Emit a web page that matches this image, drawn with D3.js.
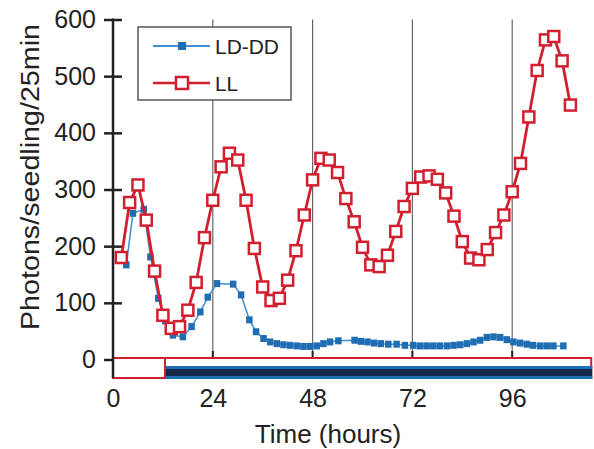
<!DOCTYPE html>
<html>
<head>
<meta charset="utf-8">
<script src="https://cdn.jsdelivr.net/npm/d3@7"></script>
<style>
  html, body { margin: 0; padding: 0; background: #fff; }
  svg { display: block; }
  text { font-family: "Liberation Sans", Arial, Helvetica, sans-serif; fill: #222; }
</style>
</head>
<body>
<div id="chart"></div>
<script>
// ---- data ----
const xTickLabels = [0, 24, 48, 72, 96];
const yTickLabels = [0, 100, 200, 300, 400, 500, 600];
const seriesNames = ["LD-DD", "LL"];

const llTime = [2,4,6,8,10,12,14,16,18,20,22,24,26,28,30,32,34,36,38,40,42,44,46,48,50,52,54,56,58,60,62,64,66,68,70,72,74,76,78,80,82,84,86,88,90,92,94,96,98,100,102,104,106,108,110];
const llValue = [180,277,308,246,156,78,55,58,87,136,215,281,340,364,352,281,196,128,104,108,140,192,255,317,355,352,330,284,243,198,167,164,184,226,270,302,322,324,318,294,253,208,179,176,194,224,255,296,346,428,510,564,570,527,449];

const lddTime = [3.2,4.8,7.4,9.0,10.9,12.6,14.4,16.8,18.9,21.0,22.8,25.0,28.9,30.8,32.8,34.4,36.2,37.8,39.4,41.0,42.6,44.2,45.8,47.4,49.0,50.6,52.2,54.2,58.1,59.6,61.2,62.8,64.4,66.2,68.2,70.2,72.2,73.8,75.4,77.0,78.6,80.3,81.9,83.5,85.1,86.7,88.3,89.9,91.5,93.1,94.7,96.3,97.9,99.5,101.0,102.7,104.3,105.9,108.3];
const lddValue = [167,258,265,181,108,68,43,40,58,84,110,134,133,114,70,49,37,31,28,26,25,24,23,23,24,28,31,33,34,32,31,29,28,27,27,25,25,24,24,24,24,24,25,26,28,31,34,39,40,39,35,31,29,27,25,24,24,24,24];

const lightOffHour = 12.5;   // end of light period in LD bar
const barEndHour = 115;

// ---- layout ----
const W = 594, H = 449;
const RED = "#d21f2f", BLUE = "#1f6db3", BLUE_LINE = "#3f8fd2";

const svg = d3.select("#chart").append("svg").attr("width", W).attr("height", H);

const x = d3.scaleLinear().domain([0, 24]).range([113, 212.8]);
const y = d3.scaleLinear().domain([0, 600]).range([359.5, 19.5]);

const barTop = 358, barBottom = 378, darkTop = 366;

// vertical reference lines
svg.append("g").selectAll("line").data(xTickLabels.filter(d => d > 0)).join("line")
  .attr("x1", d => x(d)).attr("x2", d => x(d))
  .attr("y1", y(600)).attr("y2", barTop)
  .attr("stroke", "#666").attr("stroke-width", 1.2);
// short dark ticks at bottom
svg.append("g").selectAll("line").data(xTickLabels.filter(d => d > 0)).join("line")
  .attr("x1", d => x(d)).attr("x2", d => x(d))
  .attr("y1", barTop - 7).attr("y2", barTop + 3)
  .attr("stroke", "#222").attr("stroke-width", 2);

// light/dark bar
svg.append("rect").attr("x", x(0)).attr("y", barTop)
  .attr("width", x(barEndHour) - x(0)).attr("height", barBottom - barTop)
  .attr("fill", "#fff").attr("stroke", RED).attr("stroke-width", 2);
svg.append("rect").attr("x", x(lightOffHour)).attr("y", darkTop)
  .attr("width", x(barEndHour) - x(lightOffHour) + 1).attr("height", barBottom - darkTop + 1)
  .attr("fill", "#14284a");
svg.append("rect").attr("x", x(lightOffHour)).attr("y", darkTop)
  .attr("width", x(barEndHour) - x(lightOffHour) + 1).attr("height", 3)
  .attr("fill", BLUE);
svg.append("rect").attr("x", x(lightOffHour)).attr("y", barBottom - 2)
  .attr("width", x(barEndHour) - x(lightOffHour) + 1).attr("height", 3)
  .attr("fill", BLUE);
svg.append("line").attr("x1", x(lightOffHour)).attr("x2", x(lightOffHour))
  .attr("y1", barTop).attr("y2", barBottom).attr("stroke", RED).attr("stroke-width", 2);

// y axis
const yAxis = d3.axisLeft(y).tickValues(yTickLabels).tickSize(9).tickPadding(8);
const gy = svg.append("g").attr("transform", `translate(${x(0)},0)`).call(yAxis);
gy.select(".domain").remove();
gy.selectAll(".tick line").attr("x1", d => d === 0 ? 0 : 9).attr("x2", -9)
  .attr("stroke", "#222").attr("stroke-width", 2.5);
gy.selectAll(".tick text").attr("font-size", 25).attr("fill", "#222")
  .style("font-family", '"Liberation Sans", Arial, sans-serif');
svg.append("line").attr("x1", x(0)).attr("x2", x(0)).attr("y1", y(600) - 1).attr("y2", barBottom)
  .attr("stroke", "#222").attr("stroke-width", 2.5);

// x axis labels
const xAxis = d3.axisBottom(x).tickValues(xTickLabels).tickSize(0).tickPadding(0);
const gx = svg.append("g").attr("transform", `translate(0,${barBottom})`).call(xAxis);
gx.select(".domain").remove();
gx.selectAll(".tick text").attr("font-size", 25).attr("dy", 29).attr("y", 0).attr("fill", "#222")
  .style("font-family", '"Liberation Sans", Arial, sans-serif');

// axis titles
svg.append("text").attr("x", 328).attr("y", 443).attr("text-anchor", "middle")
  .attr("font-size", 26).text("Time (hours)");
svg.append("text").attr("transform", "translate(39,177) rotate(-90)")
  .attr("text-anchor", "middle").attr("font-size", 26)
  .attr("textLength", 306).attr("lengthAdjust", "spacingAndGlyphs")
  .text("Photons/seedling/25min");

// LD-DD series
const ldd = lddTime.map((t, i) => [t, lddValue[i]]);
svg.append("path").datum(ldd)
  .attr("d", d3.line().x(d => x(d[0])).y(d => y(d[1])))
  .attr("fill", "none").attr("stroke", BLUE_LINE).attr("stroke-width", 1.5);
svg.append("g").selectAll("rect").data(ldd).join("rect")
  .attr("x", d => x(d[0]) - 3.25).attr("y", d => y(d[1]) - 3.5)
  .attr("width", 6.5).attr("height", 7).attr("fill", BLUE);

// LL series
const ll = llTime.map((t, i) => [t, llValue[i]]);
svg.append("path").datum(ll)
  .attr("d", d3.line().x(d => x(d[0])).y(d => y(d[1])))
  .attr("fill", "none").attr("stroke", RED).attr("stroke-width", 2.8);
svg.append("g").selectAll("rect").data(ll).join("rect")
  .attr("x", d => x(d[0]) - 5.5).attr("y", d => y(d[1]) - 5.5)
  .attr("width", 11).attr("height", 11)
  .attr("fill", "#fff").attr("stroke", RED).attr("stroke-width", 2.5);

// legend
const lg = svg.append("g");
lg.append("rect").attr("x", 138).attr("y", 27).attr("width", 153).attr("height", 73)
  .attr("fill", "#fff").attr("stroke", "#555").attr("stroke-width", 1.5);
// LD-DD
lg.append("line").attr("x1", 153).attr("x2", 210).attr("y1", 46).attr("y2", 46)
  .attr("stroke", BLUE_LINE).attr("stroke-width", 2);
lg.append("rect").attr("x", 178).attr("y", 42).attr("width", 8).attr("height", 8).attr("fill", BLUE);
lg.append("text").attr("x", 215).attr("y", 54).attr("font-size", 21)
  .attr("textLength", 64).attr("lengthAdjust", "spacingAndGlyphs").text(seriesNames[0]);
// LL
lg.append("line").attr("x1", 153).attr("x2", 210).attr("y1", 83).attr("y2", 83)
  .attr("stroke", RED).attr("stroke-width", 2.5);
lg.append("rect").attr("x", 176).attr("y", 77).attr("width", 12).attr("height", 12)
  .attr("fill", "#fff").attr("stroke", RED).attr("stroke-width", 2.5);
lg.append("text").attr("x", 215).attr("y", 91).attr("font-size", 21)
  .attr("textLength", 23).attr("lengthAdjust", "spacingAndGlyphs").text(seriesNames[1]);
</script>
</body>
</html>
